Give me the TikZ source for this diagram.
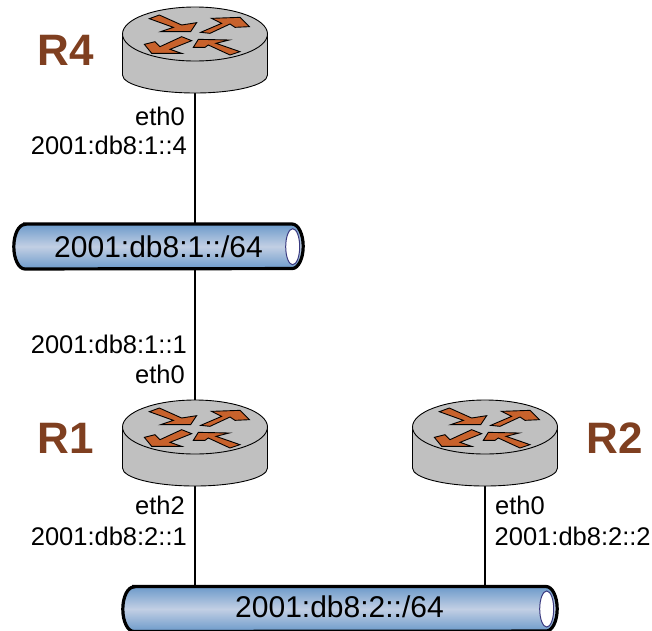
\documentclass[tikz,border=0pt]{standalone}
\usepackage{fontspec}
\setmainfont{Liberation Sans}
\usetikzlibrary{shapes.geometric}
\definecolor{brownlabel}{HTML}{7F3F20}
\definecolor{arrowfill}{HTML}{C8622C}
\definecolor{bodygray}{HTML}{C0C0C0}
\definecolor{pipedark}{HTML}{6C9ACA}
\definecolor{pipelight}{HTML}{C2CFE4}
\definecolor{pipeend}{HTML}{3A3A80}
\tikzset{
  routerbox/.style={inner sep=0pt,minimum width=145pt,minimum height=86pt},
  routeroutline/.style={draw=black,line width=0.9pt,fill=bodygray},
  routerarrow/.style={draw=black,line width=0.9pt,fill=arrowfill,line join=miter},
  pipebox/.style={inner sep=0pt,minimum height=44.5pt,font=\fontsize{30}{30}\selectfont},
  pipebody/.style={draw=black,line width=3.2pt,top color=pipedark,bottom color=pipedark,middle color=pipelight},
  pipeopen/.style={ellipse,draw=pipeend,line width=1pt,fill=white,inner sep=0pt,
    minimum width=14pt,minimum height=36pt},
  link/.style={draw=black,line width=1.2pt},
  iflabel/.style={font=\fontsize{25.5}{25.5}\selectfont,inner sep=0pt},
  routername/.style={font=\bfseries\fontsize{44}{44}\selectfont,text=brownlabel,inner sep=0pt}
}
\newcommand{\routerdraw}[1]{%
  \begin{scope}[shift={(#1.center)},x=1pt,y=-1pt]
    \path[routeroutline] (-72.5,-16) -- (-72.5,25) arc[start angle=180,end angle=360,x radius=72.5pt,y radius=18pt] -- (72.5,-16) -- cycle;
    \path[routeroutline] (0,-16) ellipse[x radius=72.5pt,y radius=27pt];
  \end{scope}
  \begin{scope}[shift={(#1.center)},yshift=16pt,x=0.3333pt,y=-0.3333pt]
    \path[routerarrow] (-137,-46) -- (-107,-57) -- (-40,-27) -- (5,-34) -- (-13,-7) -- (-103,-7) -- (-65,-20) -- cycle;
    \path[routerarrow] (17,-5) -- (80,-32) -- (50,-47) -- (135,-50) -- (163,-22) -- (120,-20) -- (105,-30) -- (45,-2) -- cycle;
    \path[routerarrow] (-10,20) -- (-40,8) -- (-105,38) -- (-120,23) -- (-152,31) -- (-130,58) -- (-40,58) -- (-75,46) -- cycle;
    \path[routerarrow] (-5,40) -- (10,16) -- (103,18) -- (63,28) -- (135,53) -- (105,63) -- (40,33) -- (30,40) -- cycle;
  \end{scope}
}
\newcommand{\pipedraw}[1]{%
  \path[pipebody] ([xshift=11pt]#1.north west) -- ([xshift=-11pt]#1.north east)
    arc[start angle=90,end angle=0,x radius=11pt,y radius=22.25pt]
    arc[start angle=0,end angle=-90,x radius=11pt,y radius=22.25pt]
    -- ([xshift=11pt]#1.south west)
    arc[start angle=270,end angle=90,x radius=11pt,y radius=22.25pt] -- cycle;
}
\begin{document}
\begin{tikzpicture}[x=1pt,y=-1pt]
\useasboundingbox (0,0) rectangle (652,630);
\clip (0,0) rectangle (652,630);
\node[routerbox] (r4) at (195,50) {};
\node[routerbox] (r1) at (195,443) {};
\node[routerbox] (r2) at (485,443) {};
\node[pipebox,minimum width=289pt] (net1) at (158.5,246.5) {};
\node[pipebox,minimum width=434pt] (net2) at (340,609) {};
\draw[link] (r4.center) -- (r4.center |- net1.center);
\draw[link] (r1.center |- net1.center) -- (r1.center);
\draw[link] (r1.center) -- (r1.center |- net2.center);
\draw[link] (r2.center) -- (r2.center |- net2.center);
\pipedraw{net1}
\pipedraw{net2}
\node[font=\fontsize{30}{30}\selectfont,inner sep=0pt] (net1text) at (158.5,246.5) {2001:db8:1::/64};
\node[font=\fontsize{30}{30}\selectfont,inner sep=0pt] (net2text) at (339.5,607) {2001:db8:2::/64};
\node[pipeopen] (net1end) at (292.7,246.7) {};
\node[pipeopen] (net2end) at (546.7,609) {};
\routerdraw{r4}
\routerdraw{r1}
\routerdraw{r2}
\node[routername] (n4) at (65.5,50) {R4};
\node[routername] (n1) at (65.5,438) {R1};
\node[routername] (n2) at (614.5,438) {R2};
\node[iflabel,anchor=base east] (l1) at (185,125) {eth0};
\node[iflabel,anchor=base east] (l2) at (187,154) {2001:db8:1::4};
\node[iflabel,anchor=base east] (l3) at (187,353) {2001:db8:1::1};
\node[iflabel,anchor=base east] (l4) at (185,383) {eth0};
\node[iflabel,anchor=base east] (l5) at (185,514) {eth2};
\node[iflabel,anchor=base east] (l6) at (187,545) {2001:db8:2::1};
\node[iflabel,anchor=base west] (l7) at (495,514) {eth0};
\node[iflabel,anchor=base west] (l8) at (494.5,545) {2001:db8:2::2};
\end{tikzpicture}
\end{document}
